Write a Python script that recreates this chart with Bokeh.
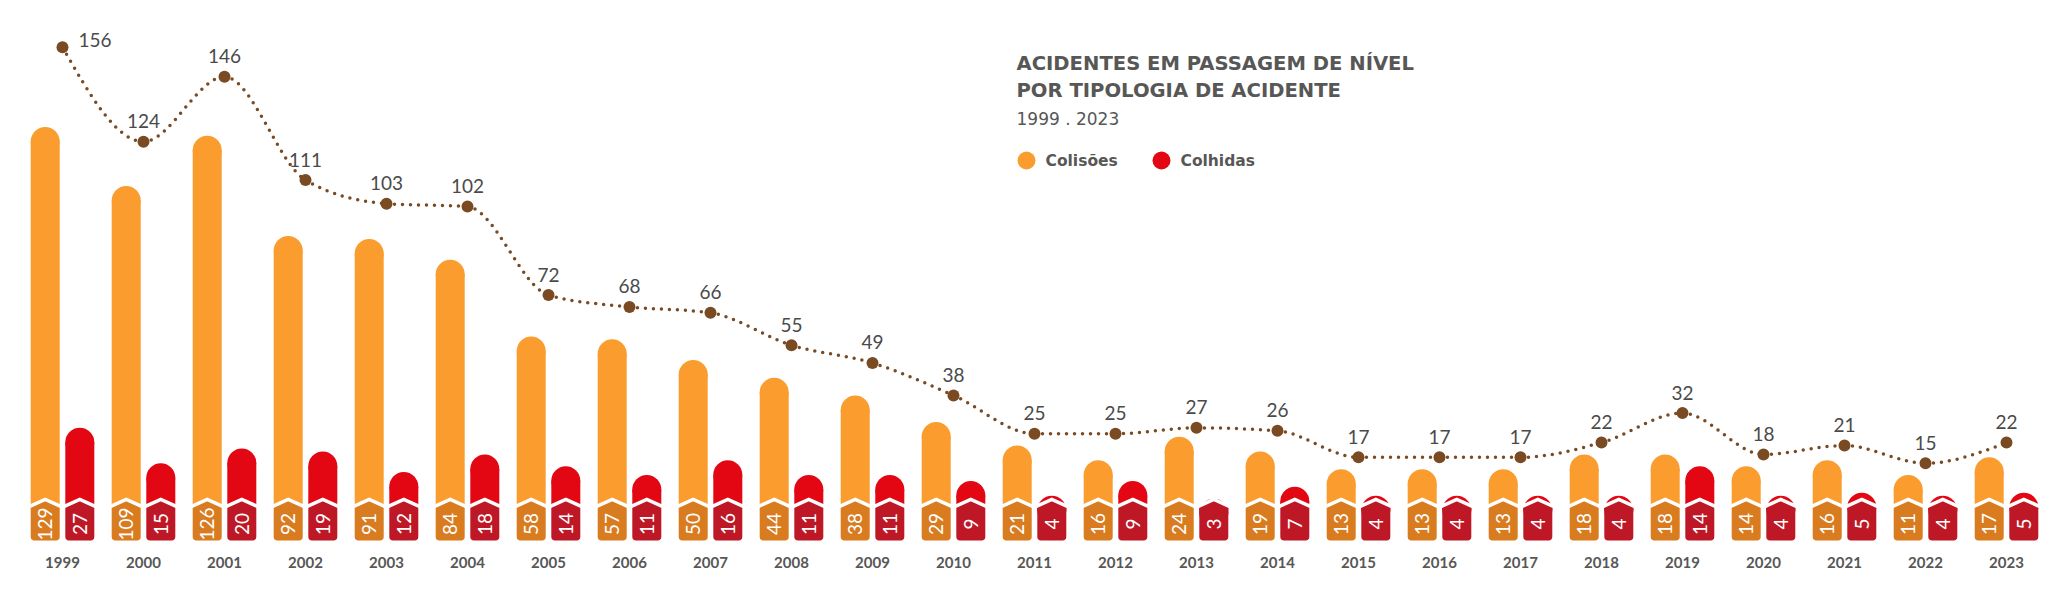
import numpy as np
from bokeh.plotting import figure
from bokeh.models import Label
from bokeh.core.properties import value
from bokeh.embed import file_html
from bokeh.resources import INLINE

# ---------------- data ----------------
years = [str(y) for y in range(1999, 2024)]
colisoes = [129, 109, 126, 92, 91, 84, 58, 57, 50, 44, 38, 29, 21, 16, 24, 19, 13, 13, 13, 18, 18, 14, 16, 11, 17]
colhidas = [27, 15, 20, 19, 12, 18, 14, 11, 16, 11, 11, 9, 4, 9, 3, 7, 4, 4, 4, 4, 14, 4, 5, 4, 5]
totais = [156, 124, 146, 111, 103, 102, 72, 68, 66, 55, 49, 38, 25, 25, 27, 26, 17, 17, 17, 22, 32, 18, 21, 15, 22]

title_lines = ["ACIDENTES EM PASSAGEM DE NÍVEL", "POR TIPOLOGIA DE ACIDENTE"]
subtitle = "1999 . 2023"
legend_labels = ["Colisões", "Colhidas"]

# ---------------- style ----------------
ORANGE = "#FA9D2E"
ORANGE_TAG = "#D97B1F"
RED = "#E30613"
RED_TAG = "#BE1826"
BROWN = "#7A4A22"
TEXT = "#575756"
FONT = "Lato"
TFONT = "DejaVu Sans"

W, H = 2050, 580
ORIGIN = 0       # page offset of the plot frame
PX_X = 81.0      # px per year step
PX_Y = 2.95      # px per accident
X0_PAGE = 62
Y0_PAGE = 507
x_start = -(X0_PAGE - ORIGIN) / PX_X
x_end = x_start + W / PX_X
y_end = (Y0_PAGE - ORIGIN) / PX_Y
y_start = y_end - H / PX_Y


def X(page_x):
    return x_start + (page_x - ORIGIN) / PX_X


def Y(page_y):
    return y_end - (page_y - ORIGIN) / PX_Y


p = figure(width=W, height=H, x_range=(x_start, x_end), y_range=(y_start, y_end),
           output_backend="svg", toolbar_location=None, min_border=0,
           x_axis_location=None, y_axis_location=None,
           outline_line_color=None, background_fill_color="white", border_fill_color="white")
p.grid.visible = False

idx = np.arange(len(years), dtype=float)
off = 17.3 / PX_X
bw = 29.0 / PX_X
r_y = 14.5 / PX_Y

# ---------------- bars ----------------
series = [(np.array(colisoes, float), idx - off, ORANGE, ORANGE_TAG),
          (np.array(colhidas, float), idx + off, RED, RED_TAG)]

for vals, xs, col, tagcol in series:
    p.vbar(x=xs, bottom=0, top=vals - r_y, width=bw, fill_color=col, line_color=None)
    p.ellipse(x=xs, y=vals - r_y, width=bw, height=2 * r_y, fill_color=col, line_color=None)

# tags (pentagon with rounded bottom corners) in pixel offsets
hw = 14.5
rc = 3.5
tag_px = [(-hw, 0), (0, 7), (hw, 0)]
for a in np.linspace(0, np.pi / 2, 5):
    tag_px.append((hw - rc + rc * np.cos(a), -33 + rc - rc * np.sin(a)))
for a in np.linspace(np.pi / 2, np.pi, 5):
    tag_px.append((-hw + rc + rc * np.cos(a), -33 + rc - rc * np.sin(a)))
roof_px = [(-hw - 1, 0), (0, 7), (hw + 1, 0)]

for vals, xs, col, tagcol in series:
    p.patches(xs=[[x + dx / PX_X for dx, dy in tag_px] for x in xs],
              ys=[[dy / PX_Y for dx, dy in tag_px] for x in xs],
              fill_color=tagcol, line_color=None)
    p.multi_line(xs=[[x + dx / PX_X for dx, dy in roof_px] for x in xs],
                 ys=[[dy / PX_Y + 0.4 for dx, dy in roof_px] for x in xs],
                 line_color="white", line_width=3.5, line_join="miter")
    p.text(x=xs, y=Y(523.5), text=[str(int(v)) for v in vals], angle=np.pi / 2,
           text_align="center", text_baseline="middle", text_color="white",
           text_font=value(FONT), text_font_size="19px")

# ---------------- total line (monotone cubic) ----------------
ys = np.array(totais, float)
n = len(ys)
s = np.diff(ys)
m = np.zeros(n)
for i in range(1, n - 1):
    s0, s1 = s[i - 1], s[i]
    pp = (s0 + s1) / 2
    sg = (1 if s0 >= 0 else -1) + (1 if s1 >= 0 else -1)
    m[i] = sg * min(abs(s0), abs(s1), 0.5 * abs(pp))
m[0] = (3 * s[0] - m[1]) / 2
m[-1] = (3 * s[-1] - m[-2]) / 2

p.bezier(x0=idx[:-1], y0=ys[:-1], x1=idx[1:], y1=ys[1:],
         cx0=idx[:-1] + 1 / 3, cy0=ys[:-1] + m[:-1] / 3,
         cx1=idx[1:] - 1 / 3, cy1=ys[1:] - m[1:] / 3,
         line_color=BROWN, line_width=3.5, line_dash="0 8", line_cap="round")
p.scatter(x=idx, y=ys, size=12, fill_color=BROWN, line_color=None)

p.text(x=idx[1:], y=ys[1:] + 20.5 / PX_Y, text=[str(v) for v in totais[1:]],
       text_align="center", text_baseline="middle", text_color="#4a4a4a",
       text_font=value(FONT), text_font_size="19px")
p.text(x=idx[:1], y=ys[:1] + 7 / PX_Y, x_offset=16, text=[str(v) for v in totais[:1]],
       text_align="left", text_baseline="middle", text_color="#4a4a4a",
       text_font=value(FONT), text_font_size="19px")

# ---------------- year labels ----------------
p.text(x=idx, y=Y(562), text=years, text_align="center", text_baseline="middle",
       text_color=TEXT, text_font=value(FONT), text_font_style="bold", text_font_size="15px")

# ---------------- title & legend ----------------
for t, cy in zip(title_lines, [62.5, 90]):
    p.add_layout(Label(x=X(1016), y=Y(cy), text=t, text_font=TFONT, text_font_style="bold",
                       text_font_size="19.6px", text_color=TEXT, text_baseline="middle"))
p.add_layout(Label(x=X(1016), y=Y(118.5), text=subtitle, text_font=TFONT,
                   text_font_size="17px", text_color=TEXT, text_baseline="middle"))

p.scatter(x=[X(1026), X(1161)], y=[Y(160), Y(160)], size=18,
          fill_color=[ORANGE, RED], line_color=None)
for t, lx in zip(legend_labels, [1045, 1180]):
    p.add_layout(Label(x=X(lx), y=Y(160.5), text=t, text_font=TFONT, text_font_style="bold",
                       text_font_size="15.5px", text_color=TEXT, text_baseline="middle"))

open("out.html", "w").write(file_html(p, INLINE))
